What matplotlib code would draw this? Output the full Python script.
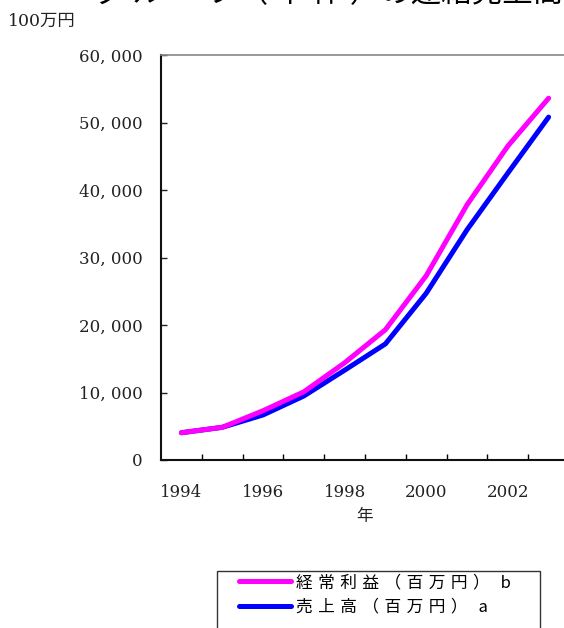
import matplotlib
matplotlib.use('Agg')
import matplotlib.pyplot as plt
from matplotlib.lines import Line2D
from matplotlib.patches import Rectangle
from matplotlib.ticker import FuncFormatter

YEARS = [1994, 1995, 1996, 1997, 1998, 1999, 2000, 2001, 2002, 2003]
SALES = [4040, 4840, 6670, 9480, 13300, 17200, 24700, 34100, 42500, 50800]
PROFIT = [4040, 4840, 7300, 10100, 14400, 19300, 27300, 37800, 46500, 53600]

SP = '\u2004'
LABEL_PROFIT = SP.join('経常利益（百万円）') + SP * 2 + 'b'
LABEL_SALES = SP.join('売上高（百万円）') + SP * 2 + 'a'
TITLE = 'グ ル ー プ（ 単 体 ）の連結売上高と経常利益'

SERIF = ['DejaVu Serif', 'Noto Sans CJK JP']
CJK = ['Noto Sans CJK JP', 'DejaVu Serif']

W, H = 564, 628
fig = plt.figure(figsize=(W / 100, H / 100), dpi=100)

# plot area runs past the right edge of the figure
left, right, top, bottom = 161, 569, 55, 460
ax = fig.add_axes([left / W, 1 - bottom / H, (right - left) / W, (bottom - top) / H])

x = list(range(len(YEARS)))
ax.plot(x, SALES, color='#0000ff', lw=3.6, solid_capstyle='round', zorder=3)
ax.plot(x, PROFIT, color='#ff00ff', lw=3.6, solid_capstyle='round', zorder=4)

ax.set_xlim(-0.5, len(YEARS) - 0.5)
ax.set_ylim(0, 60000)

ax.set_yticks(range(0, 60001, 10000))
ax.yaxis.set_major_formatter(FuncFormatter(lambda v, p: f'{int(v):,}'.replace(',', ', ')))
ax.tick_params(axis='y', direction='in', length=4.5, width=1, pad=13, labelsize=12,
               colors='#222222')

ax.set_xticks(x[::2])
ax.set_xticklabels([str(y) for y in YEARS[::2]])
ax.set_xticks([i + 0.5 for i in x], minor=True)
ax.tick_params(axis='x', which='major', length=0, pad=17, labelsize=12, colors='#222222')
ax.tick_params(axis='x', which='minor', direction='in', length=4.5, width=1)

for lab in ax.get_xticklabels() + ax.get_yticklabels():
    lab.set_family(SERIF)

for side in ['left', 'bottom']:
    ax.spines[side].set_linewidth(1.5)
    ax.spines[side].set_color('#111111')
ax.spines['top'].set_color('#888888')
ax.spines['top'].set_linewidth(1.2)
ax.spines['right'].set_visible(False)

fig.text(365 / W, 1 - 517 / H, '年', ha='center', va='center', fontsize=12,
         family=CJK, color='#222222')
fig.text(8 / W, 1 - 21 / H, '100万円', ha='left', va='center', fontsize=12.5,
         family=SERIF, color='#222222')
# title sits mostly above the top edge
fig.text(95 / W, 1 + 22 / H, TITLE, ha='left', va='top', fontsize=22,
         family=CJK, color='black')

# legend box is cut by the bottom edge
fig.patches.append(Rectangle((217 / W, -0.05), (540 - 217) / W, 0.05 + 1 - 571 / H,
                             transform=fig.transFigure, fill=False,
                             edgecolor='#333333', lw=1))
handles = [Line2D([0], [0], color='#ff00ff', lw=3.6, solid_capstyle='round'),
           Line2D([0], [0], color='#0000ff', lw=3.6, solid_capstyle='round')]
fig.legend(handles, [LABEL_PROFIT, LABEL_SALES], loc='upper left',
           bbox_to_anchor=(239 / W, 1 - 574 / H), frameon=False, borderaxespad=0,
           borderpad=0, handlelength=3.1, handletextpad=0.3, labelspacing=0.45,
           prop={'family': CJK, 'size': 12})

fig.savefig('out.png', dpi=100)
